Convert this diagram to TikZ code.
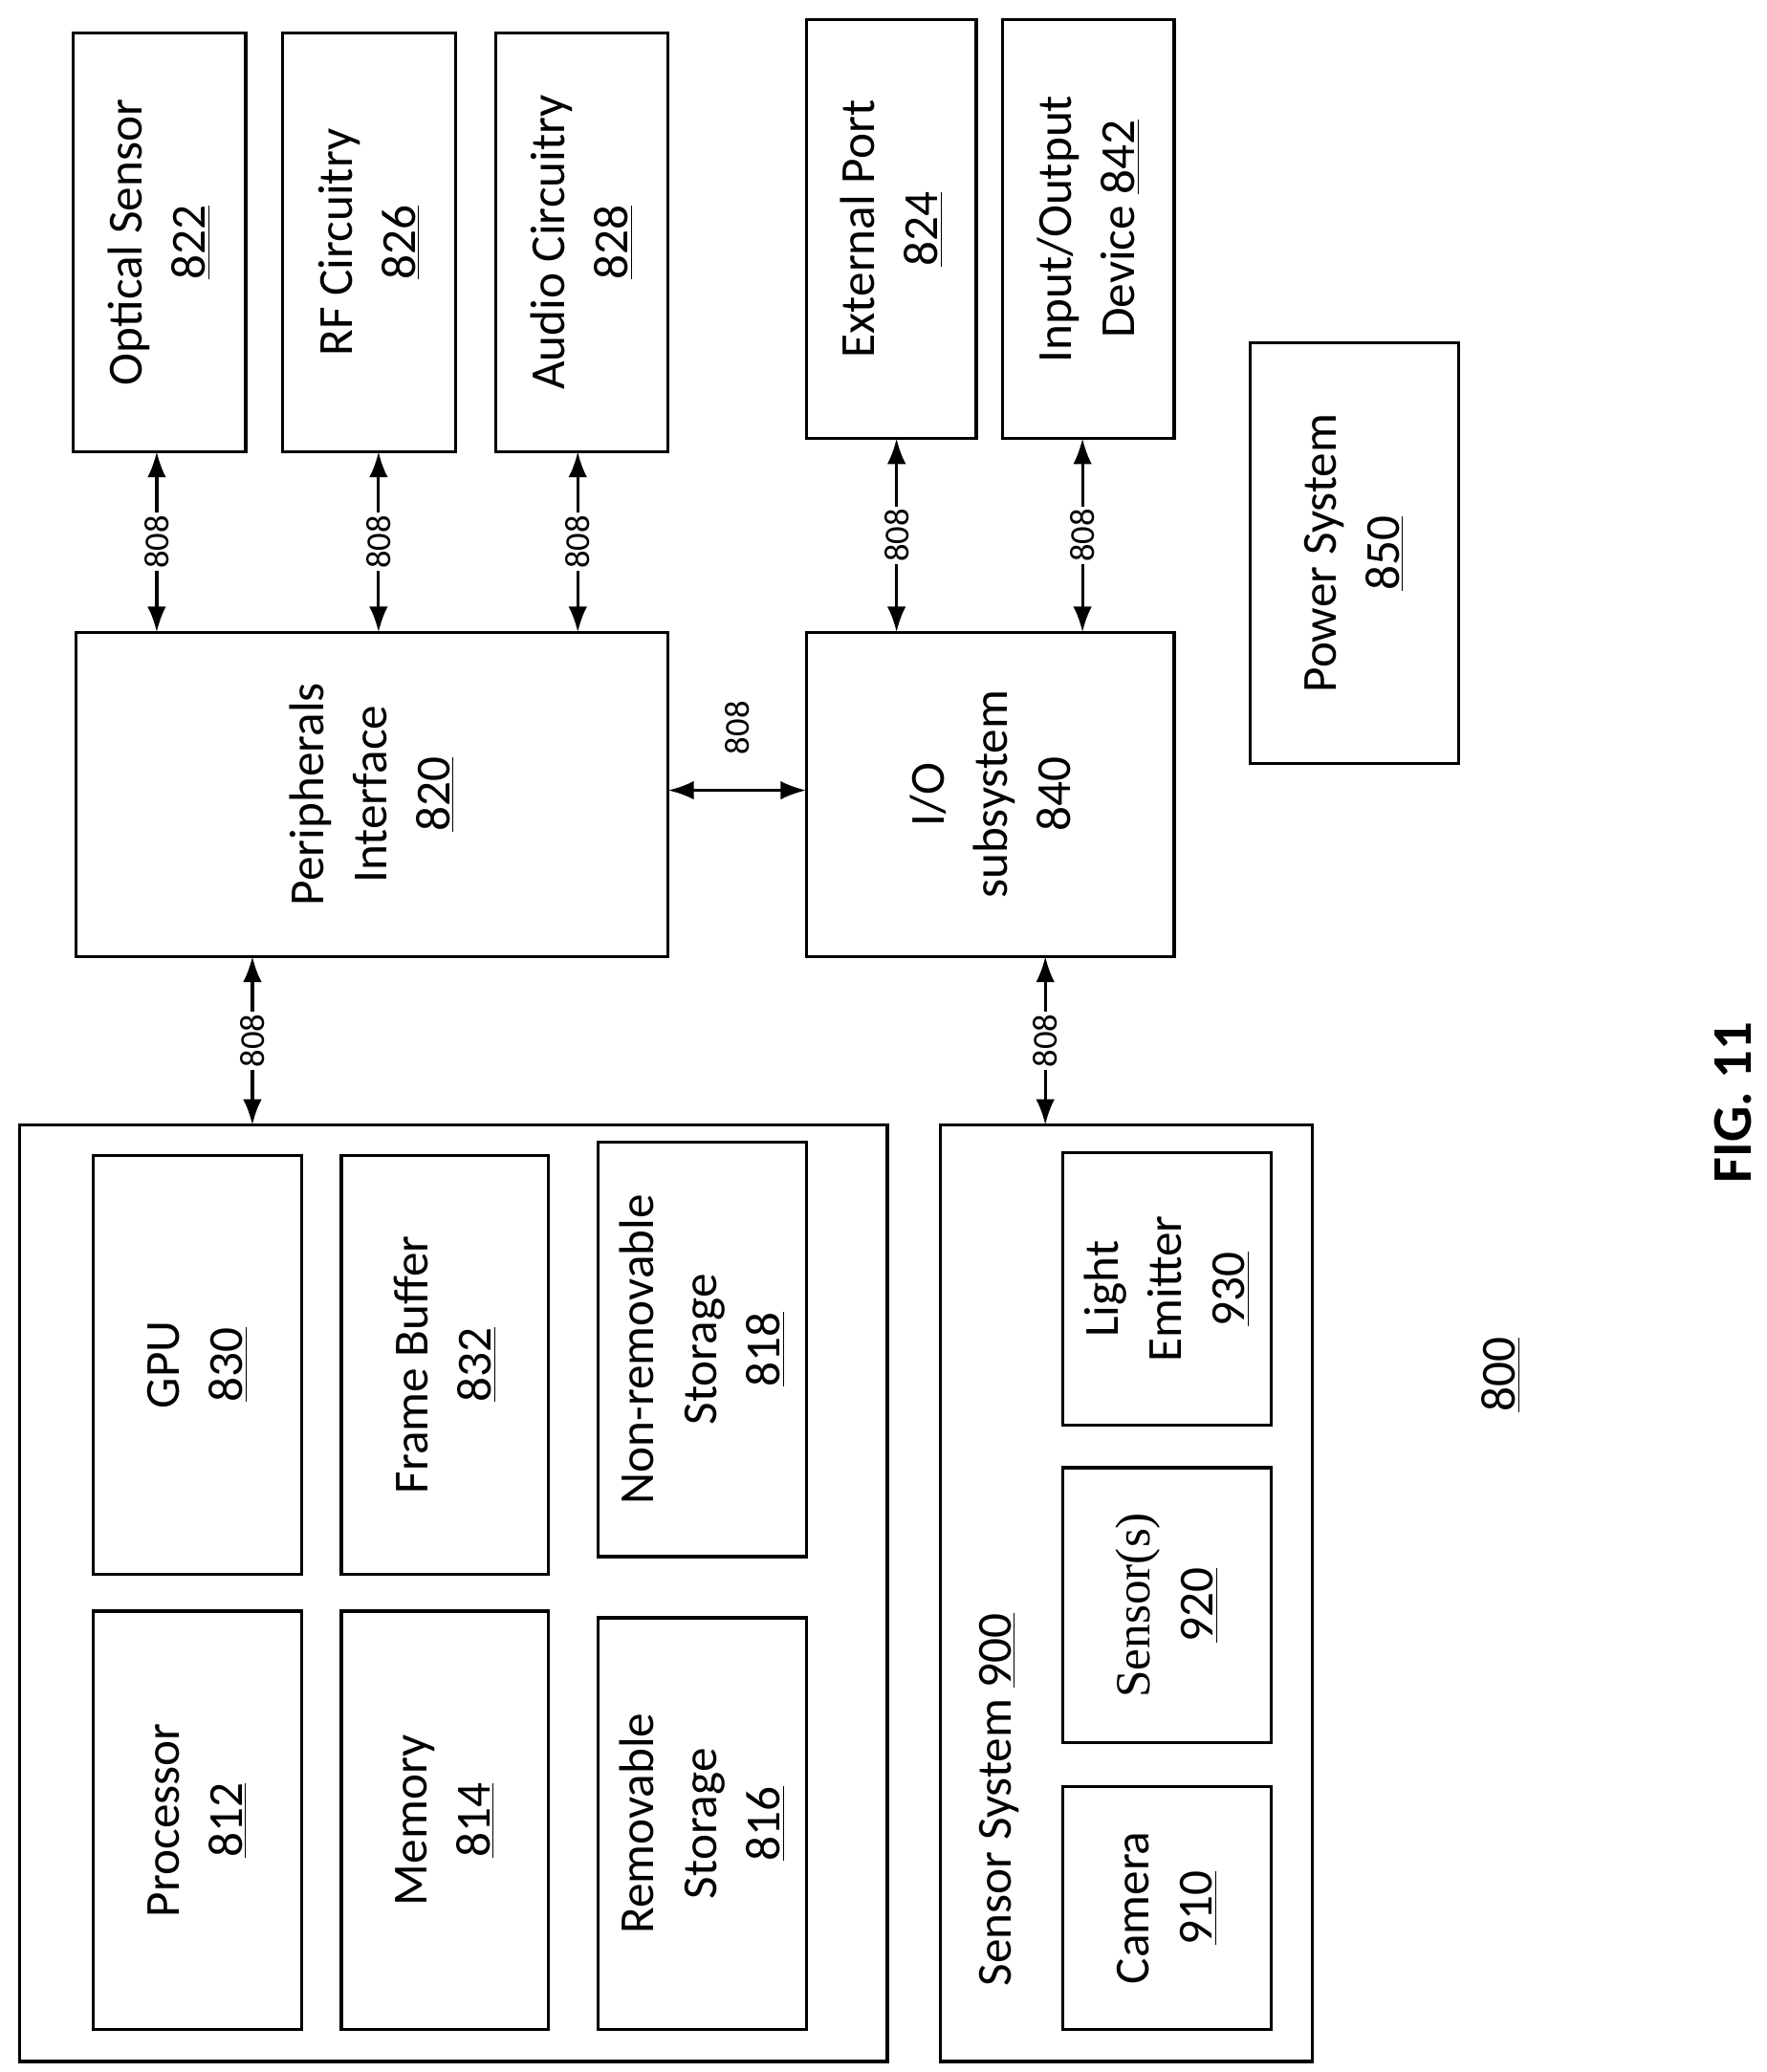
\documentclass[tikz,border=0pt]{standalone}
\usepackage{fontspec}
\setmainfont{Carlito}
\newfontfamily\serifb{Liberation Serif}
\usetikzlibrary{arrows.meta}
\begin{document}
\begin{tikzpicture}[x=0.02cm,y=-0.02cm,
  box/.style={draw,line width=1.3pt},
  lbl/.style={rotate=90,align=center,font=\fontsize{21}{27}\selectfont},
  bus/.style={line width=1.3pt,{Latex[length=11pt,width=8pt]}-{Latex[length=11pt,width=8pt]}},
  num/.style={rotate=90,fill=white,inner sep=1pt,font=\fontsize{15}{15}\selectfont}]
\useasboundingbox (0,0) rectangle (1330,1560);
\newcommand\bx[6]{\draw[box] (#2,#3) rectangle (#4,#5); \node[lbl] (#1) at ({(#2+#4)/2},{(#3+#5)/2}) {#6};}
\bx{os}{55}{25}{185}{340}{Optical Sensor\\\underline{822}}
\bx{rf}{213}{25}{343}{340}{RF Circuitry\\\underline{826}}
\bx{ac}{373}{25}{503}{340}{Audio Circuitry\\\underline{828}}
\bx{ep}{607}{15}{735}{330}{External Port\\\underline{824}}
\bx{io}{755}{15}{884}{330}{Input/Output\\Device \underline{842}}
\bx{ps}{941}{258}{1098}{575}{Power System\\\underline{850}}
\bx{pi}{57}{476}{503}{720}{Peripherals\\Interface\\\underline{820}}
\bx{ios}{607}{476}{884}{720}{I/O\\subsystem\\840}
\draw[box] (15,847) rectangle (668,1552);
\bx{pr}{70}{1213}{227}{1528}{Processor\\\underline{812}}
\bx{me}{257}{1213}{413}{1528}{Memory\\\underline{814}}
\bx{rs}{450}{1218}{607}{1528}{Removable\\Storage\\\underline{816}}
\bx{gpu}{70}{870}{227}{1185}{GPU\\\underline{830}}
\bx{fb}{257}{870}{413}{1185}{Frame Buffer\\\underline{832}}
\bx{nrs}{450}{860}{607}{1172}{Non-removable\\Storage\\\underline{818}}
\draw[box] (708,847) rectangle (988,1552);
\node[lbl] (ss) at (752,1355) {Sensor System \underline{900}};
\bx{cam}{800}{1345}{957}{1528}{Camera\\\underline{910}}
\bx{sen}{800}{1105}{957}{1312}{{\serifb Sensor(s)}\\\underline{920}}
\bx{le}{800}{868}{957}{1073}{Light\\Emitter\\\underline{930}}
\node[lbl] (n800) at (1130,1035) {\underline{800}};
\node[rotate=90,font=\fontsize{24}{24}\selectfont\bfseries] (fig) at (1305,830) {FIG. 11};
% coordinates
\coordinate (t1) at (118,340); \coordinate (b1) at (118,476);
\coordinate (t2) at (285,340); \coordinate (b2) at (285,476);
\coordinate (t3) at (435,340); \coordinate (b3) at (435,476);
\coordinate (t4) at (675,330); \coordinate (b4) at (675,476);
\coordinate (t5) at (815,330); \coordinate (b5) at (815,476);
\coordinate (t6) at (190,720); \coordinate (b6) at (190,847);
\coordinate (t7) at (787,720); \coordinate (b7) at (787,847);
\foreach \i in {1,...,7}{\draw[bus] (t\i) -- (b\i); \path (t\i) -- node[num]{808} (b\i);}
\coordinate (h1) at (503,595); \coordinate (h2) at (607,595);
\draw[bus] (h1) -- (h2);
\node[num,fill=none] at (555,548) {808};
\end{tikzpicture}
\end{document}
